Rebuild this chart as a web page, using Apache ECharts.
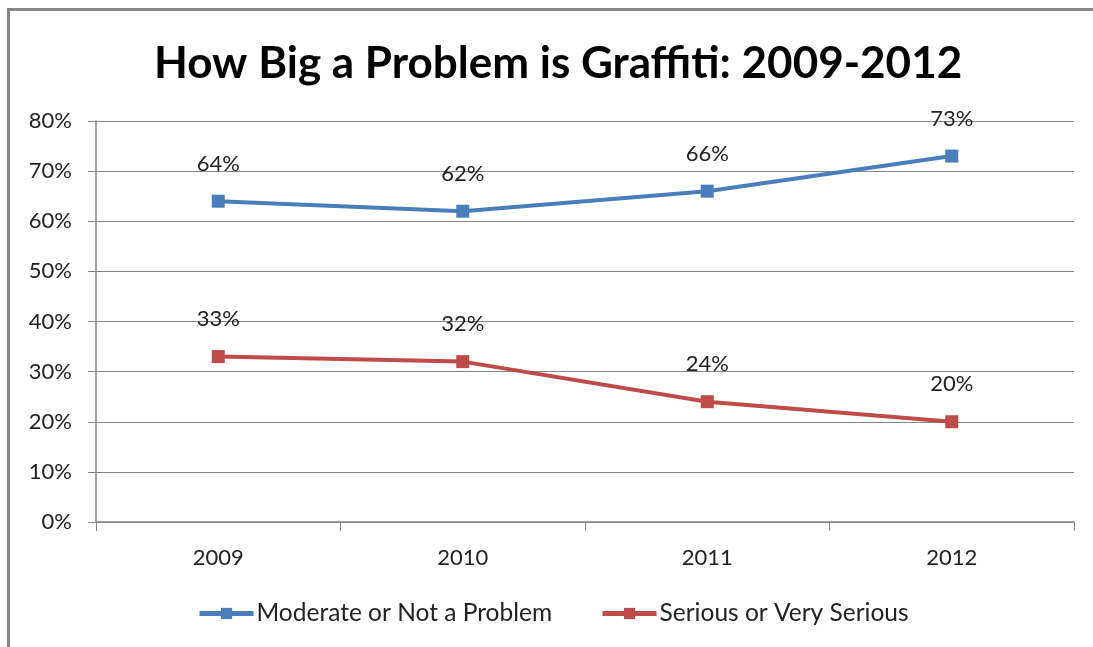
<!DOCTYPE html>
<html>
<head>
<meta charset="utf-8">
<script src="https://cdn.jsdelivr.net/npm/echarts@6/dist/echarts.min.js"></script>
<style>
  html, body { margin: 0; padding: 0; background: #fff; }
  #container { width: 1093px; height: 647px; }
</style>
</head>
<body>
<div id="container"></div>
<script>
var years = ['2009', '2010', '2011', '2012'];
var moderate = [64, 62, 66, 73];
var serious = [33, 32, 24, 20];
var yTicks = [0, 10, 20, 30, 40, 50, 60, 70, 80];

var chartDom = document.getElementById('container');
var myChart = echarts.init(chartDom);
var fontName = 'Lato';
var option;

function lineSeries(name, data, color) {
  return {
    name: name,
    type: 'line',
    data: data,
    color: color,
    symbol: 'rect',
    symbolSize: 13,
    lineStyle: { width: 4, color: color },
    itemStyle: { color: color },
    label: {
      show: true,
      position: 'top',
      distance: 20,
      formatter: '{c}%',
      fontFamily: fontName,
      fontSize: 22,
      color: '#222'
    }
  };
}

option = {
  animation: false,
  title: {
    text: 'How Big a Problem is Graffiti: 2009-2012',
    left: 149,
    top: 37,
    textStyle: {
      fontFamily: fontName,
      fontWeight: 'bold',
      fontSize: 44,
      color: '#000'
    }
  },
  graphic: [{
    type: 'rect',
    shape: { x: 8.5, y: 9.5, width: 1300, height: 900 },
    style: { fill: 'none', stroke: '#868686', lineWidth: 3 },
    silent: true
  }],
  legend: {
    bottom: 16,
    left: 192,
    itemWidth: 54,
    itemHeight: 14,
    itemGap: 48,
    lineStyle: { width: 5 },
    textStyle: { fontFamily: fontName, fontSize: 24.5, color: '#222', padding: [0, 0, 0, -2] },
    data: ['Moderate or Not a Problem', 'Serious or Very Serious']
  },
  grid: { left: 96, right: 19, top: 121, bottom: 125, containLabel: false },
  xAxis: {
    type: 'category',
    data: years,
    boundaryGap: true,
    axisLine: { lineStyle: { color: '#868686', width: 1.5 } },
    axisTick: { show: true, interval: 0, length: 9, lineStyle: { color: '#868686' } },
    axisLabel: { fontFamily: fontName, fontSize: 22, color: '#222', margin: 25 }
  },
  yAxis: {
    type: 'value',
    min: yTicks[0],
    max: yTicks[yTicks.length - 1],
    interval: 10,
    axisLine: { show: true, lineStyle: { color: '#868686', width: 1.5 } },
    axisTick: { show: true, length: 8, lineStyle: { color: '#868686' } },
    axisLabel: { formatter: '{value}%', fontFamily: fontName, fontSize: 22, color: '#222', margin: 24 },
    splitLine: { lineStyle: { color: '#868686', width: 1 } }
  },
  series: [
    lineSeries('Moderate or Not a Problem', moderate, '#4a7ebb'),
    lineSeries('Serious or Very Serious', serious, '#be4b48')
  ]
};

option && myChart.setOption(option);
</script>
</body>
</html>
